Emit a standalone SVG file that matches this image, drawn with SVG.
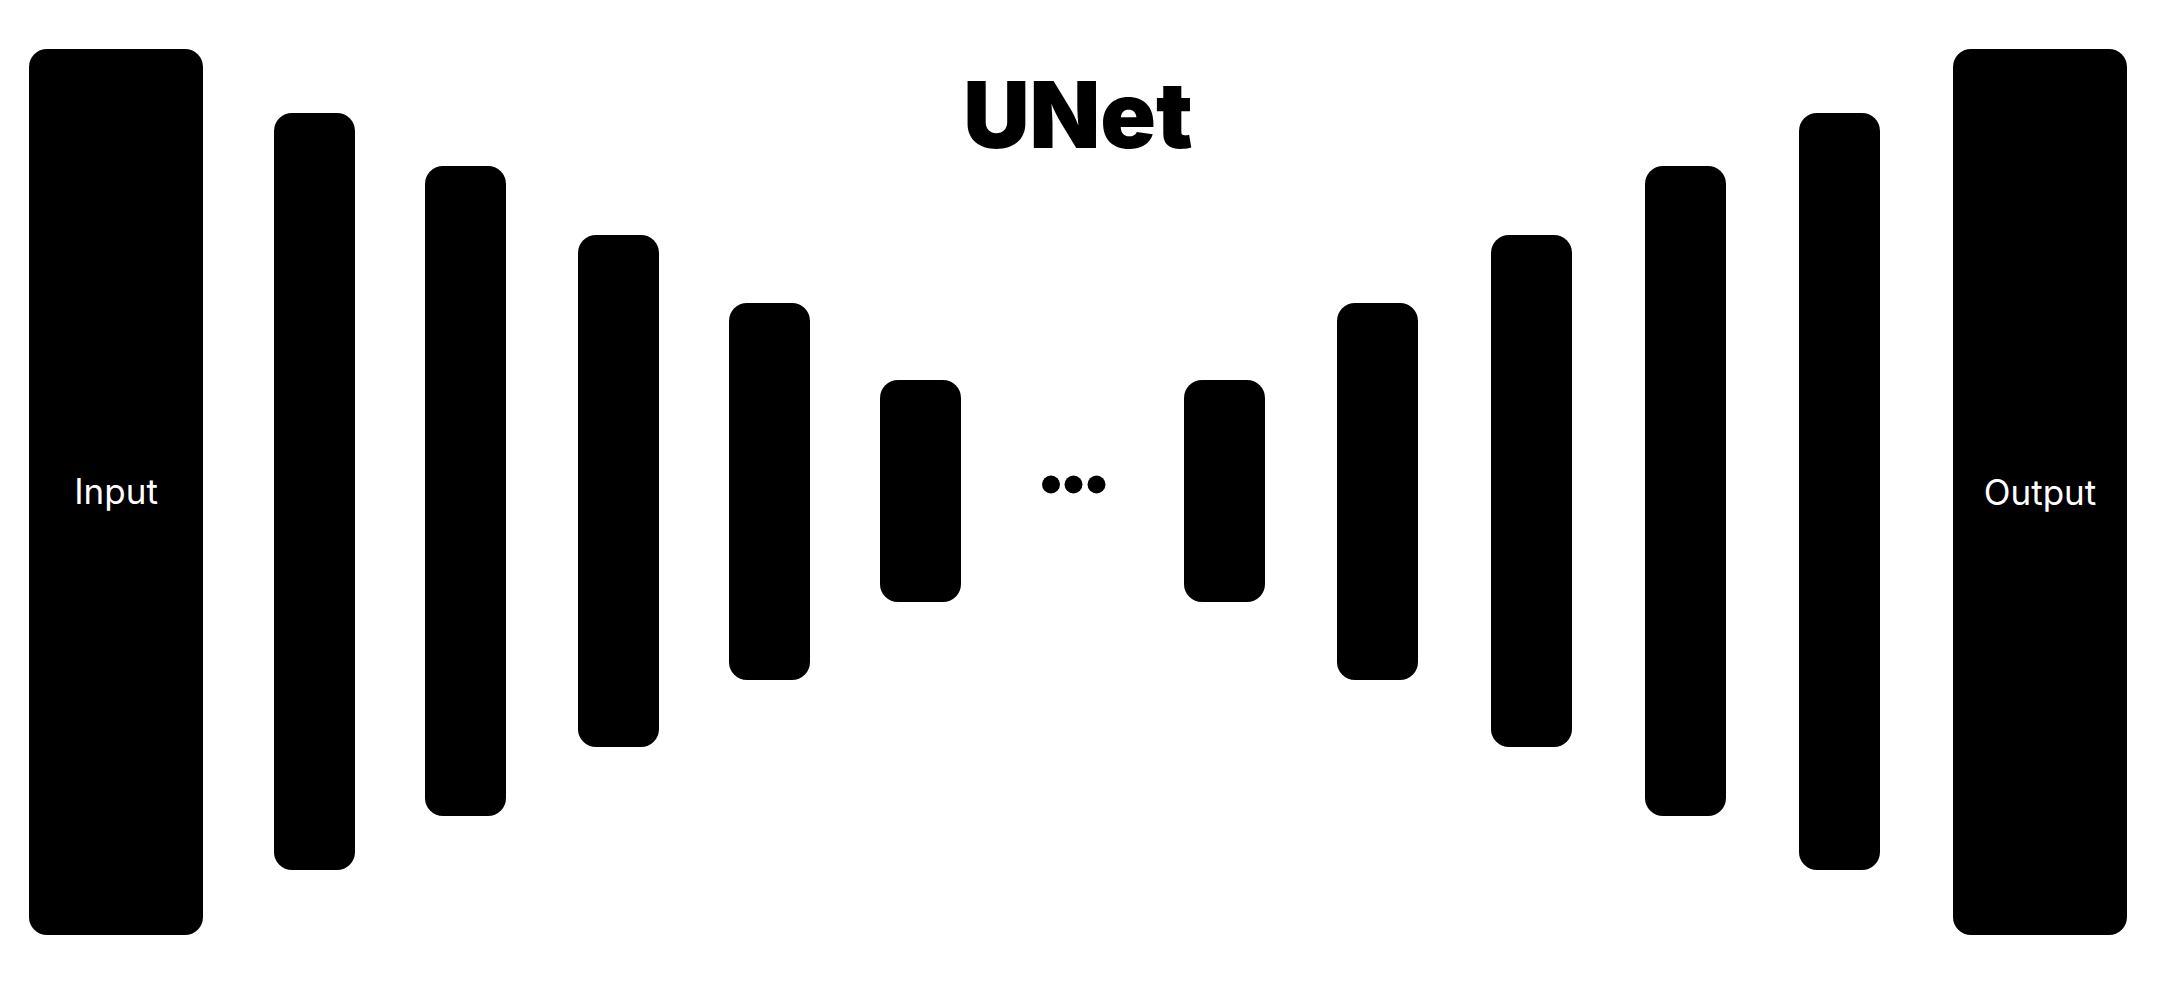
<svg xmlns="http://www.w3.org/2000/svg" width="2162" height="1002" viewBox="0 0 2162 1002">
<style>
.blk{fill:#000}
.lbl{font-family:Inter,"Liberation Sans",sans-serif;font-size:35px;fill:#fff;text-anchor:middle}
.title{font-family:Inter,"Liberation Sans",sans-serif;font-size:92px;font-weight:900;fill:#000;text-anchor:middle}
</style>
<rect width="2162" height="1002" fill="#fff"/>
<text class="title" x="1078" y="148">UNet</text>
<g id="input"><rect class="blk" x="29" y="49" width="174" height="886" rx="18"/><text class="lbl" x="116" y="504">Input</text></g>
<g id="enc1"><rect class="blk" x="274" y="113" width="81" height="757" rx="18"/></g>
<g id="enc2"><rect class="blk" x="425" y="166" width="81" height="650" rx="18"/></g>
<g id="enc3"><rect class="blk" x="578" y="235" width="81" height="512" rx="18"/></g>
<g id="enc4"><rect class="blk" x="729" y="303" width="81" height="377" rx="18"/></g>
<g id="enc5"><rect class="blk" x="880" y="380" width="81" height="222" rx="18"/></g>
<g id="ellipsis"><circle class="blk" cx="1051" cy="484.5" r="9"/><circle class="blk" cx="1073.5" cy="484.5" r="9"/><circle class="blk" cx="1096.5" cy="484.5" r="9"/></g>
<g id="dec5"><rect class="blk" x="1184" y="380" width="81" height="222" rx="18"/></g>
<g id="dec4"><rect class="blk" x="1337" y="303" width="81" height="377" rx="18"/></g>
<g id="dec3"><rect class="blk" x="1491" y="235" width="81" height="512" rx="18"/></g>
<g id="dec2"><rect class="blk" x="1645" y="166" width="81" height="650" rx="18"/></g>
<g id="dec1"><rect class="blk" x="1799" y="113" width="81" height="757" rx="18"/></g>
<g id="output"><rect class="blk" x="1953" y="49" width="174" height="886" rx="18"/><text class="lbl" x="2040" y="505">Output</text></g>
<g id="connectors"/>
</svg>
